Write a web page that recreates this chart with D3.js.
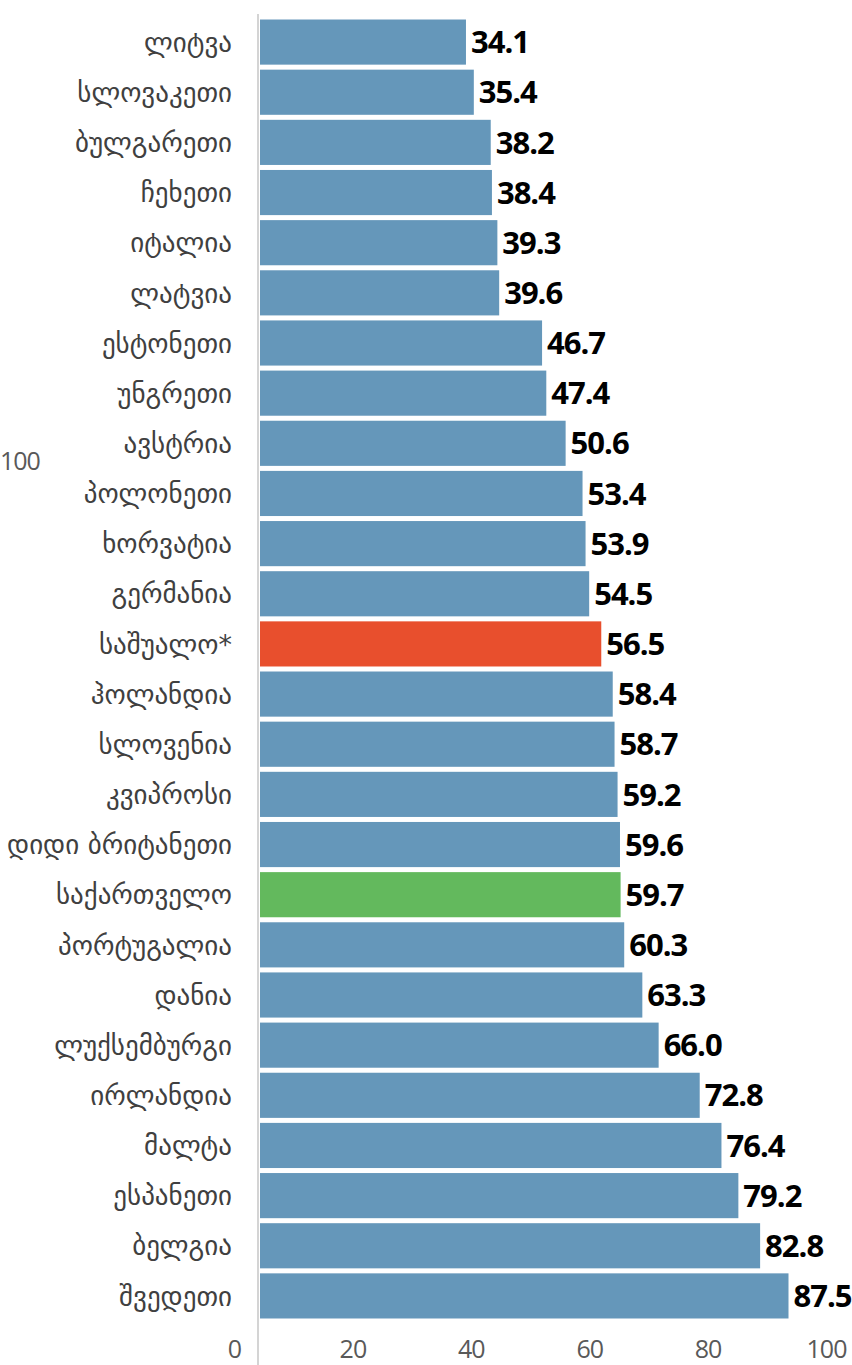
<!DOCTYPE html>
<html>
<head>
<meta charset="utf-8">
<script src="https://cdn.jsdelivr.net/npm/d3@7"></script>
<style>
  body { margin: 0; background: #fff; }
  svg { display: block; }
  .cat { font-family: "DejaVu Sans", sans-serif; font-size: 27px; fill: #404040; }
  .val { font-family: "Open Sans", Lato, sans-serif; font-weight: 700; font-size: 31px; letter-spacing: -1px; fill: #000; }
  .tick text, .stray { font-family: "Open Sans", Lato, sans-serif; font-size: 25px; letter-spacing: -1px; fill: #595959; }
</style>
</head>
<body>
<svg id="chart"></svg>
<script>
const countries = ['ლიტვა','სლოვაკეთი','ბულგარეთი','ჩეხეთი','იტალია','ლატვია','ესტონეთი','უნგრეთი',
  'ავსტრია','პოლონეთი','ხორვატია','გერმანია','საშუალო*','ჰოლანდია','სლოვენია','კვიპროსი',
  'დიდი ბრიტანეთი','საქართველო','პორტუგალია','დანია','ლუქსემბურგი','ირლანდია','მალტა',
  'ესპანეთი','ბელგია','შვედეთი'];
const values = [34.1,35.4,38.2,38.4,39.3,39.6,46.7,47.4,50.6,53.4,53.9,54.5,56.5,58.4,58.7,59.2,
  59.6,59.7,60.3,63.3,66.0,72.8,76.4,79.2,82.8,87.5];
const highlight = {'საშუალო*':'#e84f2d','საქართველო':'#63b95d'};
const ticks = [0,20,40,60,80,100];

const W = 852, H = 1365;
const svg = d3.select('#chart').attr('width', W).attr('height', H);

const data = countries.map((c,i)=>({name:c, value:values[i]}));

const x = d3.scaleLinear().domain([0,100]).range([260, 864]);
// tick labels sit offset from the bars in the source picture
const xTicks = d3.scaleLinear().domain([0,100]).range([234, 826]);
const y = d3.scaleBand().domain(countries).range([17, 1321]).paddingInner(0.1).paddingOuter(0.05);

svg.append('line')
    .attr('x1', 258).attr('x2', 258)
    .attr('y1', 14).attr('y2', H)
    .attr('stroke', '#d4d4d4').attr('stroke-width', 2);

svg.selectAll('rect.bar')
    .data(data)
    .join('rect')
    .attr('class','bar')
    .attr('x', x(0))
    .attr('y', d => y(d.name))
    .attr('width', d => x(d.value) - x(0))
    .attr('height', y.bandwidth())
    .attr('fill', d => highlight[d.name] || '#6597ba');

svg.selectAll('text.val')
    .data(data)
    .join('text')
    .attr('class','val')
    .attr('x', d => x(d.value) + 5)
    .attr('y', d => y(d.name) + y.bandwidth()/2)
    .attr('dy','0.36em')
    .text(d => d.value.toFixed(1));

svg.selectAll('text.cat')
    .data(data)
    .join('text')
    .attr('class','cat')
    .attr('x', 232)
    .attr('y', d => y(d.name) + y.bandwidth()/2)
    .attr('dy','0.36em')
    .attr('text-anchor','end')
    .text(d => d.name);

const axis = svg.append('g')
    .attr('transform', `translate(0,${1358})`)
    .call(d3.axisBottom(xTicks).tickValues(ticks).tickSize(0).tickPadding(0));
axis.select('.domain').remove();
axis.selectAll('text').attr('dy', 0).attr('y', 0);

// stray label at the left edge
svg.append('text')
    .attr('class','stray')
    .attr('x', 0).attr('y', 470)
    .text('100');
</script>
</body>
</html>
